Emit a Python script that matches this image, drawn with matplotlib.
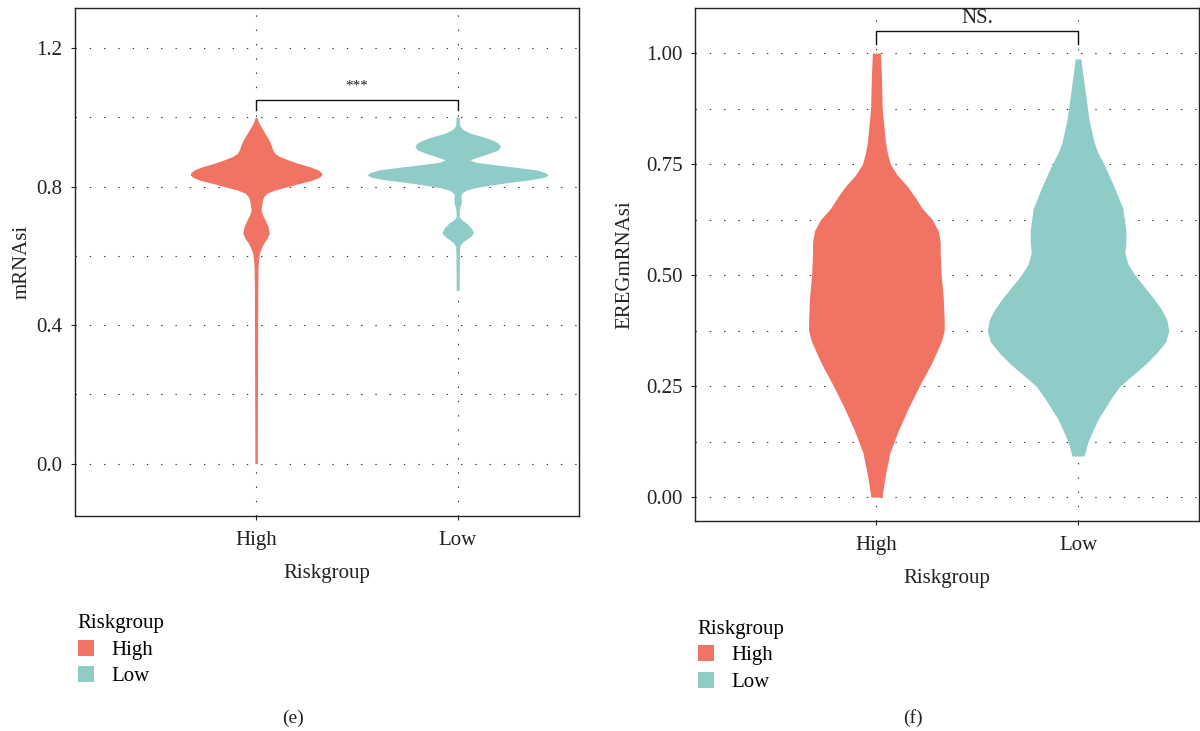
import numpy as np
import matplotlib
matplotlib.use("Agg")
import matplotlib.pyplot as plt
from matplotlib.patches import Patch

plt.rcParams["font.family"] = ["Liberation Serif", "DejaVu Serif"]

# group labels and colours
groups = ["High", "Low"]
group_colors = {"High": "#F07363", "Low": "#8FCCC8"}

# mRNAsi violin outlines: value levels and relative density (half width)
mrnasi_high_y = [1.000, 0.985, 0.973, 0.955, 0.944, 0.925, 0.906, 0.895, 0.886, 0.876,
                 0.867, 0.857, 0.848, 0.840, 0.833, 0.826, 0.819, 0.810, 0.800, 0.790,
                 0.781, 0.770, 0.761, 0.745, 0.732, 0.718, 0.704, 0.685, 0.665, 0.650,
                 0.636, 0.620, 0.607, 0.585, 0.569, 0.500, 0.300, 0.100, 0.000]
mrnasi_high_d = [0.8, 2.5, 5, 8.5, 11, 14.5, 16.7, 19, 24, 33,
                 42, 54, 62, 65.5, 66, 63, 57, 45, 32, 19,
                 11, 7.5, 6.5, 5.5, 5, 6.5, 9, 12, 13.3, 11,
                 7.5, 5, 3.3, 2.4, 2, 1.7, 1.5, 1.3, 1.2]

mrnasi_low_y = [1.000, 0.990, 0.975, 0.965, 0.954, 0.944, 0.934, 0.925, 0.915, 0.905,
                0.896, 0.886, 0.877, 0.870, 0.862, 0.855, 0.848, 0.840, 0.833, 0.826,
                0.819, 0.812, 0.805, 0.797, 0.790, 0.783, 0.776, 0.764, 0.752, 0.742,
                0.732, 0.713, 0.704, 0.694, 0.680, 0.667, 0.656, 0.646, 0.637, 0.627,
                0.600, 0.550, 0.500]
mrnasi_low_d = [1.8, 1.6, 2.2, 5, 12.5, 25, 35, 41, 43, 40,
                32, 21, 12.5, 18, 40, 60, 79, 88, 91, 86,
                72, 52, 35, 18, 9, 5, 3.2, 3.8, 3.5, 2.5,
                1.7, 1.5, 4, 9, 13.5, 16, 13, 8, 4, 2,
                1.7, 1.6, 1.5]

# EREGmRNAsi violin outlines
ereg_high_y = [1.000, 0.950, 0.875, 0.800, 0.775, 0.750, 0.725, 0.700, 0.675, 0.650,
               0.625, 0.600, 0.575, 0.550, 0.500, 0.450, 0.400, 0.375, 0.350, 0.325,
               0.300, 0.250, 0.200, 0.150, 0.100, 0.050, 0.000]
ereg_high_d = [4, 5, 5.8, 9, 11, 14, 21, 31, 39, 46,
               56, 62, 64, 64, 65, 67, 68, 68, 65, 60,
               55, 43, 32, 22, 13.5, 9, 5.5]

ereg_low_y = [0.987, 0.950, 0.900, 0.850, 0.800, 0.775, 0.750, 0.700, 0.650, 0.600,
              0.575, 0.550, 0.525, 0.500, 0.475, 0.450, 0.425, 0.400, 0.375, 0.350,
              0.325, 0.300, 0.275, 0.250, 0.225, 0.200, 0.175, 0.150, 0.125, 0.0925]
ereg_low_d = [2.8, 5, 8, 11, 16, 20, 26, 36, 45, 48,
              48, 47, 50, 57, 66, 75, 83, 89, 91, 88,
              79, 68, 55, 42, 34, 27, 20, 15, 10, 6]

panels = [
    {
        "ylabel": "mRNAsi",
        "profiles": {"High": (mrnasi_high_y, mrnasi_high_d),
                     "Low": (mrnasi_low_y, mrnasi_low_d)},
        "ylim": (-0.15, 1.314),
        "yticks": [0.0, 0.4, 0.8, 1.2],
        "yminor": [0.2, 0.6, 1.0],
        "fmt": "{:.1f}",
        "label": "***",
        "label_y": 1.072,
        "label_size": 11,
        "bracket": (1.021, 1.0485),
        "tag": "(e)",
        "rect": [0.0622, 0.2947, 0.42, 0.6937],
        "ylabelpad": 3,
        "legend_xy": (0.0647, 0.1595),
    },
    {
        "ylabel": "EREGmRNAsi",
        "profiles": {"High": (ereg_high_y, ereg_high_d),
                     "Low": (ereg_low_y, ereg_low_d)},
        "ylim": (-0.053, 1.1005),
        "yticks": [0.0, 0.25, 0.5, 0.75, 1.0],
        "yminor": [0.125, 0.375, 0.625, 0.875],
        "fmt": "{:.2f}",
        "label": "NS.",
        "label_y": 1.056,
        "label_size": 15,
        "bracket": (1.020, 1.049),
        "tag": "(f)",
        "rect": [0.5791, 0.2878, 0.4201, 0.7006],
        "ylabelpad": 8,
        "legend_xy": (0.5814, 0.1518),
    },
]

fig = plt.figure(figsize=(12, 7.31), dpi=100)

text_color = "#222222"
dot_style = (0, (1.25, 11.6))
fs = 15

for p in panels:
    ax = fig.add_axes(p["rect"])

    # shared scaling so the widest violin spans 0.9 of a category slot
    peak = max(max(d) for _, d in p["profiles"].values())
    handles = []
    for i, g in enumerate(groups):
        ys, ds = p["profiles"][g]
        half = np.array(ds) / peak * 0.45
        pos = i + 1
        ax.fill_betweenx(ys, pos - half, pos + half, color=group_colors[g],
                         linewidth=0, zorder=3)
        handles.append(Patch(facecolor=group_colors[g], edgecolor="none", label=g))

    # dotted grid (major + minor)
    for y in list(p["yticks"]) + list(p["yminor"]):
        ax.axhline(y, color="#333333", lw=0.8, linestyle=dot_style, zorder=1)
    for x in [1, 2]:
        ax.axvline(x, color="#333333", lw=0.8, linestyle=dot_style, zorder=1)

    # significance bracket
    lo, hi = p["bracket"]
    ax.plot([1, 1, 2, 2], [lo, hi, hi, lo], color="#111111", lw=1.0, zorder=4)
    ax.text(1.5, p["label_y"], p["label"], ha="center", va="bottom",
            fontsize=p["label_size"], color=text_color)

    ax.set_xlim(0.1, 2.6)
    ax.set_ylim(*p["ylim"])
    ax.set_xticks([1, 2])
    ax.set_xticklabels(groups)
    ax.set_yticks(p["yticks"])
    ax.set_yticklabels([p["fmt"].format(v) for v in p["yticks"]])
    ax.tick_params(axis="both", length=3, width=0.8, color="#222222",
                   labelsize=fs, labelcolor=text_color, pad=6)
    ax.tick_params(axis="x", pad=8)
    for s in ax.spines.values():
        s.set_color("#222222")
        s.set_linewidth(1.0)

    ax.set_xlabel("Riskgroup", fontsize=fs, color=text_color, labelpad=10)
    ax.set_ylabel(p["ylabel"], fontsize=fs, color=text_color, labelpad=p["ylabelpad"])

    fig.legend(handles=handles, title="Riskgroup", loc="upper left",
               bbox_to_anchor=p["legend_xy"], frameon=False, fontsize=fs,
               title_fontsize=fs, handlelength=0.8, handleheight=0.8,
               handletextpad=0.8, labelspacing=0.3, alignment="left",
               borderaxespad=0, borderpad=0)

    cx = p["rect"][0] + p["rect"][2] / 2
    fig.text(cx - 0.028, 0.006, p["tag"], ha="center", va="bottom",
             fontsize=14, color=text_color)

fig.savefig("out.png", dpi=100, facecolor="white")
